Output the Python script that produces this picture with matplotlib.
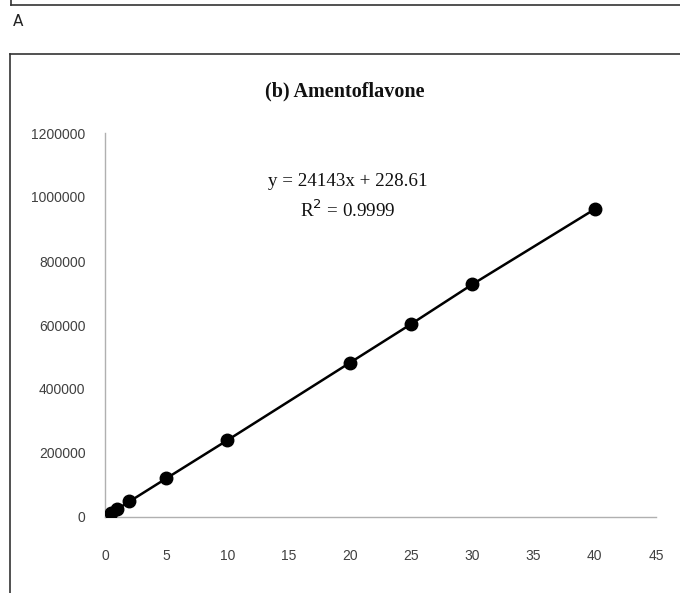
import matplotlib
matplotlib.use("Agg")
import matplotlib.pyplot as plt
from matplotlib.lines import Line2D

# Data
conc = [0.5, 1, 2, 5, 10, 20, 25, 30, 40]
area = [12300, 24500, 48500, 120500, 240000, 482000, 603000, 727000, 962000]
x_ticks = [0, 5, 10, 15, 20, 25, 30, 35, 40, 45]
y_ticks = [0, 200000, 400000, 600000, 800000, 1000000, 1200000]
title = "(b) Amentoflavone"
equation = "y = 24143x + 228.61"
r2_text = "R$^2$ = 0.9999"
panel_label = "A"

W, H = 680, 593
fig = plt.figure(figsize=(W / 100, H / 100), dpi=100)

tick_font = ['Liberation Sans', 'DejaVu Sans']
serif = ['Liberation Serif', 'DejaVu Serif']

ax = fig.add_axes([105 / W, 1 - 517 / H, (656 - 105) / W, (517 - 133) / H])
ax.plot(conc, area, color='black', lw=1.8, marker='o', markersize=9,
        markerfacecolor='black', markeredgecolor='black', zorder=3)
ax.set_xlim(0, 45)
ax.set_ylim(0, 1200000)
ax.set_xticks(x_ticks)
ax.set_yticks(y_ticks)
ax.set_xticklabels([str(v) for v in x_ticks], family=tick_font, fontsize=10,
                   color='#404040')
ax.set_yticklabels([str(v) for v in y_ticks], family=tick_font, fontsize=10,
                   color='#404040')
ax.tick_params(axis='both', length=0)
ax.tick_params(axis='x', pad=23)
ax.tick_params(axis='y', pad=14)
for s in ['top', 'right']:
    ax.spines[s].set_visible(False)
for s in ['left', 'bottom']:
    ax.spines[s].set_color('#b0b0b0')
    ax.spines[s].set_linewidth(1.0)

fig.text(345 / W, 1 - 91 / H, title, family=serif, fontweight='bold', fontsize=14.5,
         ha='center', va='center', color='#111111')
fig.text(348 / W, 1 - 181 / H, equation, family=serif, fontsize=13.7,
         ha='center', va='center', color='#111111')
fig.text(348 / W, 1 - 210 / H, r2_text, family=serif, fontsize=13.7,
         ha='center', va='center', color='#111111')
fig.text(13 / W, 1 - 22 / H, panel_label, family=['DejaVu Sans'], fontsize=11,
         ha='left', va='center', color='#222222')

# frames
lc = '#333333'
fig.add_artist(Line2D([10.5 / W, 1.0], [1 - 5 / H, 1 - 5 / H], color=lc, lw=1.2))
fig.add_artist(Line2D([10.5 / W, 10.5 / W], [1 - 5 / H, 1.0], color=lc, lw=1.2))
fig.add_artist(Line2D([9.5 / W, 1.0], [1 - 54 / H, 1 - 54 / H], color=lc, lw=1.2))
fig.add_artist(Line2D([9.5 / W, 9.5 / W], [1 - 54 / H, 0.0], color=lc, lw=1.2))

fig.savefig('out.png', dpi=100)
